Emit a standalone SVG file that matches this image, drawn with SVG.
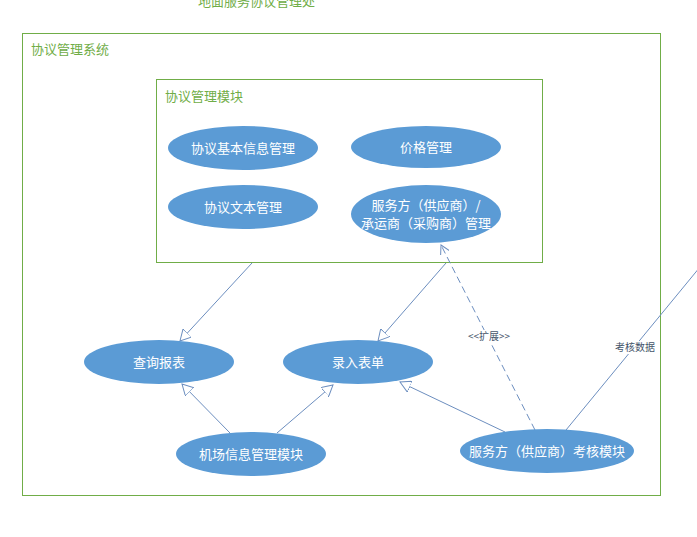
<svg xmlns="http://www.w3.org/2000/svg" width="697" height="537" viewBox="0 0 697 537">
<style>
.box{fill:none;stroke:#70AD47;stroke-width:1}
.gl{fill:#70AD47;font-family:"Noto Sans CJK SC","Liberation Sans",sans-serif;font-size:13px}
.uc{fill:#5B9BD5}
.ut{fill:#fff;font-family:"Noto Sans CJK SC","Liberation Sans",sans-serif;font-size:13px;text-anchor:middle}
.ln{fill:none;stroke:#6C8EBF;stroke-width:1}
.lt{fill:#44546A;font-family:"Noto Sans CJK SC","Liberation Sans",sans-serif;font-size:10px;text-anchor:middle}
</style>
<defs>
<marker id="tri" viewBox="0 0 12 12" refX="11" refY="6" markerWidth="12" markerHeight="12" markerUnits="userSpaceOnUse" orient="auto">
<path d="M0,0 L11,6 L0,12 Z" fill="#fff" stroke="#6C8EBF" stroke-width="1"/>
</marker>
<marker id="open" viewBox="0 0 10 10" refX="9" refY="5" markerWidth="10" markerHeight="10" markerUnits="userSpaceOnUse" orient="auto">
<path d="M0,0 L9,5 L0,10" fill="none" stroke="#6C8EBF" stroke-width="1"/>
</marker>
</defs>
<rect width="697" height="537" fill="#fff"/>
<text class="gl" x="198" y="6">地面服务协议管理处</text>
<g id="system">
<rect class="box" x="22.5" y="33.5" width="638" height="462"/>
<text class="gl" x="31" y="54">协议管理系统</text>
</g>
<g id="module">
<rect class="box" x="156.5" y="79.5" width="386" height="183"/>
<text class="gl" x="165" y="101">协议管理模块</text>
</g>
<g id="connectors">
<line class="ln" x1="252" y1="263" x2="180" y2="341" marker-end="url(#tri)"/>
<line class="ln" x1="446" y1="263" x2="378" y2="341" marker-end="url(#tri)"/>
<line class="ln" x1="230" y1="433" x2="182" y2="384" marker-end="url(#tri)"/>
<line class="ln" x1="277" y1="433" x2="333" y2="385" marker-end="url(#tri)"/>
<line class="ln" x1="505" y1="432" x2="400" y2="382" marker-end="url(#tri)"/>
<line class="ln" x1="535" y1="430" x2="441" y2="245" stroke-dasharray="7,4" marker-end="url(#open)"/>
<line class="ln" x1="566" y1="430" x2="700" y2="267"/>
<rect x="467" y="330" width="44" height="13" fill="#fff"/>
<text class="lt" x="489" y="340">&lt;&lt;扩展&gt;&gt;</text>
<rect x="613" y="341" width="44" height="13" fill="#fff"/>
<text class="lt" x="635" y="351">考核数据</text>
</g>
<g id="uc1"><ellipse class="uc" cx="243" cy="148" rx="75" ry="22"/><text class="ut" x="243" y="153">协议基本信息管理</text></g>
<g id="uc2"><ellipse class="uc" cx="426" cy="147" rx="75" ry="21"/><text class="ut" x="426" y="152">价格管理</text></g>
<g id="uc3"><ellipse class="uc" cx="243" cy="207" rx="75" ry="22"/><text class="ut" x="243" y="212">协议文本管理</text></g>
<g id="uc4"><ellipse class="uc" cx="426" cy="214" rx="75" ry="29"/><text class="ut" x="426" y="210">服务方（供应商）/</text><text class="ut" x="426" y="228">承运商（采购商）管理</text></g>
<g id="uc5"><ellipse class="uc" cx="159" cy="362" rx="75" ry="22"/><text class="ut" x="159" y="367">查询报表</text></g>
<g id="uc6"><ellipse class="uc" cx="358" cy="362" rx="75" ry="22"/><text class="ut" x="358" y="367">录入表单</text></g>
<g id="uc7"><ellipse class="uc" cx="251" cy="454" rx="75" ry="22"/><text class="ut" x="251" y="459">机场信息管理模块</text></g>
<g id="uc8"><ellipse class="uc" cx="547" cy="451" rx="87" ry="22"/><text class="ut" x="547" y="456">服务方（供应商）考核模块</text></g>
</svg>
